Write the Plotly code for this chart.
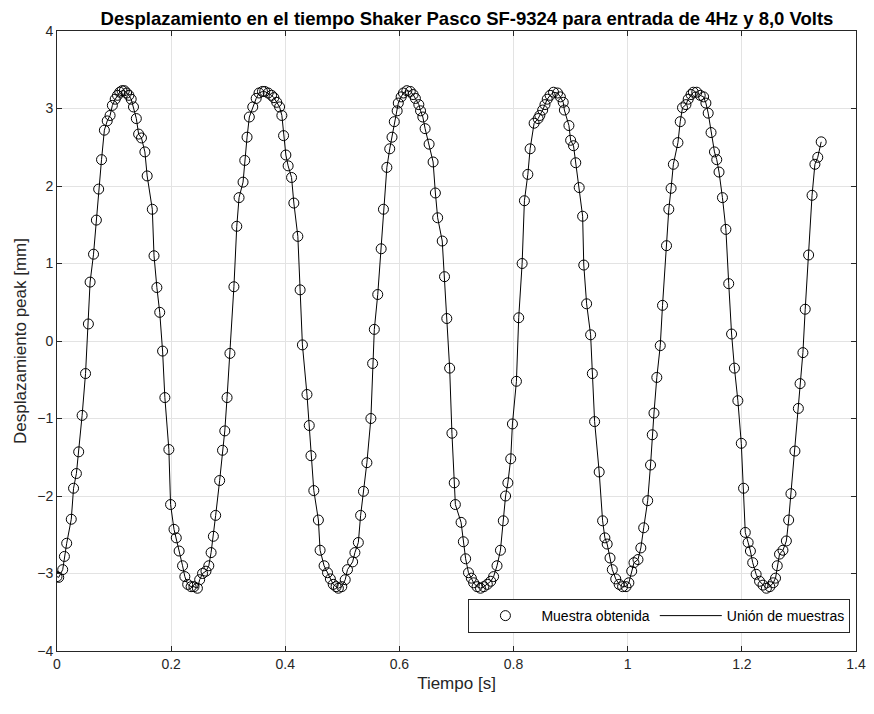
import plotly.graph_objects as go

tiempo = [
    0.000, 0.003, 0.010, 0.013, 0.017, 0.025, 0.029, 0.034, 0.038, 0.044,
    0.050, 0.055, 0.058, 0.064, 0.069, 0.073, 0.078, 0.083, 0.088, 0.093,
    0.097, 0.102, 0.106, 0.110, 0.114, 0.118, 0.122, 0.126, 0.130, 0.134,
    0.139, 0.143, 0.148, 0.154, 0.158,
    0.167, 0.170, 0.175, 0.180, 0.185, 0.189, 0.196, 0.199, 0.205, 0.209,
    0.214, 0.220, 0.224, 0.229, 0.235, 0.240, 0.246, 0.250, 0.255, 0.261,
    0.266, 0.270, 0.274, 0.278, 0.285, 0.290, 0.294, 0.298, 0.303, 0.310,
    0.315, 0.319, 0.326, 0.329, 0.333, 0.337,
    0.343, 0.349, 0.354, 0.360, 0.364, 0.370, 0.376, 0.380, 0.385, 0.390,
    0.394, 0.397, 0.401, 0.405, 0.411, 0.415, 0.422, 0.426, 0.430, 0.438,
    0.442, 0.445, 0.450, 0.458, 0.461, 0.468, 0.474, 0.479, 0.484, 0.489,
    0.493, 0.499, 0.505, 0.509,
    0.518, 0.522, 0.528, 0.532, 0.537, 0.543, 0.550, 0.553, 0.556, 0.562,
    0.568, 0.572, 0.578, 0.583, 0.587, 0.591, 0.596, 0.598, 0.603, 0.607,
    0.613, 0.619, 0.624, 0.628, 0.634, 0.637, 0.641, 0.645, 0.652, 0.659,
    0.663, 0.667, 0.675, 0.679, 0.683, 0.688, 0.692, 0.696, 0.698,
    0.708, 0.712, 0.716, 0.721, 0.726, 0.730, 0.736, 0.742, 0.748, 0.754,
    0.760, 0.765, 0.771, 0.777, 0.782, 0.786, 0.790, 0.795, 0.798, 0.805,
    0.809, 0.815, 0.819, 0.825, 0.829, 0.836, 0.843, 0.846, 0.851, 0.855,
    0.859, 0.864, 0.870,
    0.877, 0.882, 0.887, 0.889, 0.897, 0.900, 0.905, 0.909, 0.915, 0.921,
    0.923, 0.928, 0.935, 0.938, 0.942, 0.950, 0.956, 0.960, 0.964, 0.969,
    0.973, 0.979, 0.985, 0.991, 0.997, 1.002, 1.007, 1.011, 1.018, 1.023,
    1.028, 1.035, 1.040, 1.043, 1.046, 1.051,
    1.057, 1.061, 1.068, 1.072, 1.076, 1.080, 1.088, 1.092, 1.096, 1.102,
    1.106, 1.111, 1.115, 1.121, 1.127, 1.133, 1.137, 1.141, 1.146, 1.152,
    1.156, 1.160, 1.166, 1.172, 1.177, 1.182, 1.187, 1.193, 1.199, 1.203,
    1.206, 1.211, 1.215, 1.219,
    1.225, 1.231, 1.237, 1.243, 1.249, 1.255, 1.259, 1.262, 1.266, 1.272,
    1.278, 1.282, 1.286, 1.293, 1.299, 1.302, 1.307, 1.311, 1.317, 1.323,
    1.328, 1.333, 1.339,
]

desplazamiento = [
    -3.04, -3.05, -2.95, -2.78, -2.61, -2.30, -1.90, -1.71, -1.43, -0.96,
    -0.42, 0.22, 0.76, 1.12, 1.56, 1.96, 2.34, 2.72, 2.84, 2.91,
    3.04, 3.12, 3.17, 3.21, 3.23, 3.23, 3.20, 3.17, 3.12, 3.02,
    2.87, 2.67, 2.62, 2.44, 2.13,
    1.70, 1.10, 0.69, 0.37, -0.13, -0.73, -1.40, -2.11, -2.43, -2.54,
    -2.71, -2.90, -3.04, -3.14, -3.17, -3.17, -3.19, -3.08, -3.00, -2.97,
    -2.90, -2.73, -2.52, -2.25, -1.80, -1.41, -1.16, -0.73, -0.16, 0.70,
    1.48, 1.85, 2.05, 2.33, 2.63, 2.89,
    3.02, 3.13, 3.20, 3.22, 3.22, 3.20, 3.17, 3.14, 3.08, 3.02,
    2.91, 2.65, 2.40, 2.26, 2.11, 1.78, 1.35, 0.66, -0.05, -0.69,
    -1.09, -1.48, -1.93, -2.31, -2.70, -2.90, -2.99, -3.07, -3.14, -3.17,
    -3.19, -3.17, -3.08, -2.95,
    -2.85, -2.73, -2.60, -2.25, -1.94, -1.57, -1.00, -0.29, 0.15, 0.60,
    1.19, 1.70, 2.24, 2.48, 2.63, 2.83, 2.97, 3.07, 3.15, 3.20,
    3.23, 3.22, 3.18, 3.13, 3.05, 2.97, 2.89, 2.74, 2.54, 2.31,
    1.91, 1.59, 1.29, 0.83, 0.29, -0.35, -1.19, -1.83, -2.11,
    -2.34, -2.59, -2.81, -2.99, -3.06, -3.12, -3.17, -3.19, -3.17, -3.14,
    -3.10, -3.04, -2.90, -2.70, -2.32, -2.00, -1.83, -1.52, -1.07, -0.52,
    0.30, 1.00, 1.81, 2.15, 2.48, 2.81, 2.87, 2.91, 2.98, 3.05,
    3.12, 3.17, 3.21,
    3.20, 3.15, 3.08, 2.98, 2.78, 2.59, 2.52, 2.30, 1.98, 1.61,
    0.98, 0.48, 0.08, -0.42, -1.04, -1.69, -2.32, -2.54, -2.62, -2.80,
    -2.95, -3.07, -3.14, -3.17, -3.17, -3.12, -2.97, -2.86, -2.82, -2.67,
    -2.41, -2.06, -1.60, -1.21, -0.93, -0.47,
    -0.06, 0.46, 1.23, 1.70, 1.97, 2.28, 2.56, 2.83, 3.01, 3.05,
    3.12, 3.18, 3.21, 3.21, 3.17, 3.15, 3.07, 2.94, 2.69, 2.44,
    2.34, 2.18, 1.85, 1.44, 0.74, 0.09, -0.35, -0.77, -1.32, -1.90,
    -2.47, -2.60, -2.71, -2.86,
    -3.01, -3.10, -3.15, -3.19, -3.17, -3.12, -3.06, -2.90, -2.75, -2.70,
    -2.58, -2.31, -1.97, -1.42, -0.87, -0.55, -0.15, 0.41, 1.11, 1.88,
    2.28, 2.37, 2.57,
]

titulo = "Desplazamiento en el tiempo Shaker Pasco SF-9324 para entrada de 4Hz y 8,0 Volts"
eje_x = "Tiempo [s]"
eje_y = "Desplazamiento peak [mm]"
serie_puntos = "Muestra obtenida"
serie_linea = "Unión de muestras"

FONT = "Liberation Sans, Arial, Helvetica, sans-serif"
AX = "#262626"

fig = go.Figure()
fig.add_trace(go.Scatter(
    x=tiempo, y=desplazamiento, mode="markers", name=serie_puntos,
    marker=dict(symbol="circle-open", size=10, color="black", line=dict(width=1, color="black")),
))
fig.add_trace(go.Scatter(
    x=tiempo, y=desplazamiento, mode="lines", name=serie_linea,
    line=dict(color="black", width=1),
))

axis_common = dict(
    showgrid=True, gridcolor="#e3e3e3", gridwidth=1,
    showline=True, linecolor=AX, linewidth=1, mirror="ticks",
    ticks="inside", ticklen=5, tickcolor=AX, tickwidth=1,
    zeroline=False, automargin=False,
    tickfont=dict(family=FONT, size=14, color=AX),
)

fig.update_layout(
    width=866, height=706,
    margin=dict(l=49, r=18, t=23, b=63),
    paper_bgcolor="white", plot_bgcolor="white",
    title=dict(text="<b>" + titulo + "</b>", x=0.53, xref="container", xanchor="center",
               y=1, yref="container", yanchor="top", pad=dict(t=4),
               font=dict(family=FONT, size=18.5, color="black")),
    xaxis=dict(range=[0, 1.4], dtick=0.2, tick0=0,
               title=dict(text=eje_x, font=dict(family=FONT, size=17, color=AX), standoff=6),
               **axis_common),
    yaxis=dict(range=[-4, 4], dtick=1, tick0=0,
               title=dict(text=eje_y, font=dict(family=FONT, size=17, color=AX), standoff=6),
               **axis_common),
    legend=dict(orientation="h", x=0.993, xanchor="right", y=0.029, yanchor="bottom",
                bgcolor="white", bordercolor=AX, borderwidth=1,
                font=dict(family=FONT, size=14, color="black"), itemwidth=62,
                traceorder="normal"),
    showlegend=True,
)

fig.write_html("out.html")
